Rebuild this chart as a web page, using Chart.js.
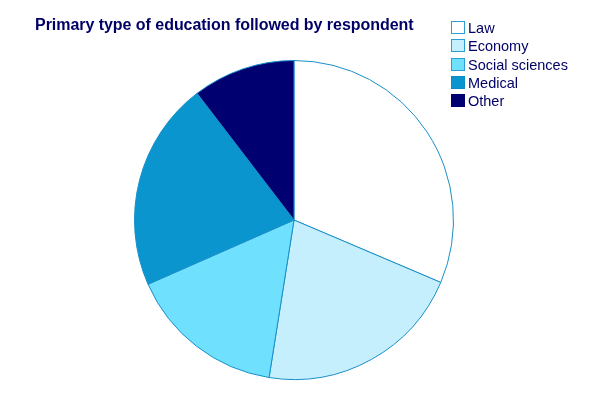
<!DOCTYPE html>
<html>
<head>
<meta charset="utf-8">
<script src="https://cdn.jsdelivr.net/npm/chart.js@4"></script>
<style>
  html, body { margin: 0; padding: 0; background: #ffffff; }
  #wrap { position: relative; width: 600px; height: 394px; overflow: hidden; }
  #title { position: absolute; left: 35px; top: 16px; font: bold 16px "Liberation Sans", Arial, sans-serif; color: #000066; white-space: nowrap; letter-spacing: -0.04px; }
  #legend { position: absolute; left: 451px; top: 21px; font: 14.5px "Liberation Sans", Arial, sans-serif; color: #000066; }
  .item { position: relative; height: 18.3px; white-space: nowrap; }
  .box { position: absolute; left: 0; top: 0; width: 12px; height: 11px; border: 1px solid #2a9fd0; }
  .lbl { position: absolute; left: 17px; top: -1px; line-height: 16px; }
  canvas { position: absolute; left: 0; top: 0; }
</style>
</head>
<body>
<div id="wrap">
  <canvas id="c" width="600" height="394"></canvas>
  <div id="title">Primary type of education followed by respondent</div>
  <div id="legend"></div>
</div>
<script>
const categories = ["Law", "Economy", "Social sciences", "Medical", "Other"];
const shares = [31.4, 21.1, 15.9, 21.2, 10.4];
const colors = ["#ffffff", "#c6effd", "#6fe0fe", "#0a95cf", "#000070"];
const boxBorders = ["#2a9fd0", "#2a9fd0", "#2a9fd0", "#0a8cc4", "#000070"];

const legend = document.getElementById('legend');
categories.forEach((c, i) => {
  const it = document.createElement('div');
  it.className = 'item';
  const b = document.createElement('div');
  b.className = 'box';
  b.style.background = colors[i];
  b.style.borderColor = boxBorders[i];
  const l = document.createElement('div');
  l.className = 'lbl';
  l.textContent = c;
  it.appendChild(b);
  it.appendChild(l);
  legend.appendChild(it);
});

new Chart(document.getElementById('c'), {
  type: 'pie',
  data: {
    labels: categories,
    datasets: [{
      data: shares,
      backgroundColor: colors,
      borderColor: "#1a8fc8",
      borderWidth: 1
    }]
  },
  options: {
    responsive: false,
    animation: false,
    layout: { padding: { left: 134, right: 146, top: 60, bottom: 14 } },
    plugins: {
      legend: { display: false },
      title: { display: false },
      tooltip: { enabled: false }
    }
  }
});
</script>
</body>
</html>
